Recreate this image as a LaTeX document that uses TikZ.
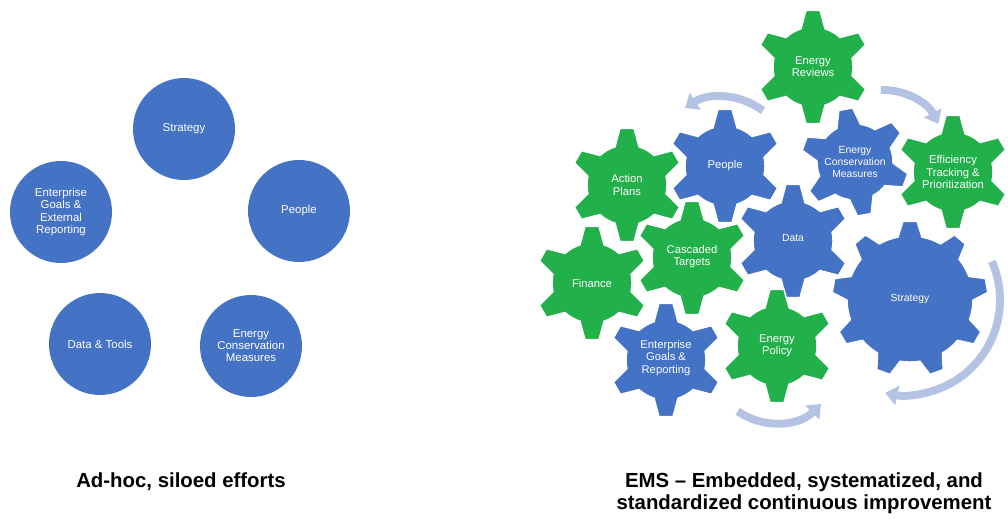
\documentclass[tikz,border=0pt]{standalone}
\usepackage{fontspec}
\setmainfont{Liberation Sans}
\usepackage{tikz}
\usetikzlibrary{arrows.meta}

\definecolor{cogblue}{HTML}{4472C4}
\definecolor{coggreen}{HTML}{22B04B}
\definecolor{loopblue}{HTML}{B4C3E3}

% centre, colour, teeth, body radius, tip radius, turn
\newcommand{\cog}[6]{%
  \begin{scope}[shift={(#1)}]
    \pgfmathsetmacro{\cogstep}{360/#3}
    \pgfmathsetmacro{\cogbase}{asin(12/#4)}
    \pgfmathsetmacro{\cogtip}{asin(7/#5)}
    \pgfmathtruncatemacro{\coglast}{#3-1}
    \filldraw[fill=#2,draw=white,line width=0.8pt]
      ({90+#6-\cogbase}:#4)
      \foreach \k in {0,...,\coglast}{
        -- ({90+#6+\k*\cogstep-\cogbase}:#4)
        -- ({90+#6+\k*\cogstep-\cogtip}:#5)
        -- ({90+#6+\k*\cogstep+\cogtip}:#5)
        -- ({90+#6+\k*\cogstep+\cogbase}:#4)
        arc[start angle={90+#6+\k*\cogstep+\cogbase},
            end angle={90+#6+(\k+1)*\cogstep-\cogbase}, radius=#4]
      } -- cycle;
  \end{scope}}

\begin{document}
\begin{tikzpicture}[x=0.02cm,y=0.02cm,
    blob/.style={circle,fill=cogblue,minimum size=2.04cm,inner sep=0pt,
      text=white,align=center,font=\fontsize{6.5}{6.9}\selectfont},
    cogtext/.style={text=white,align=center,font=\fontsize{6.4}{6.9}\selectfont},
    smalltext/.style={cogtext,font=\fontsize{5.9}{7.1}\selectfont},
    flow/.style={loopblue,line width=4.5pt,-{Triangle[width=11pt,length=7pt]}},
    caption/.style={align=center,font=\fontsize{11.6}{12.5}\selectfont\bfseries}]
  \useasboundingbox (0,0) rectangle (1008,518);

  \node[blob] (S) at (184,389) {Strategy};
  \node[blob] (P) at (299,307) {People};
  \node[blob] (G) at (61,306) {Enterprise\\Goals \&\\External\\Reporting};
  \node[blob] (D) at (100,174) {Data \& Tools};
  \node[blob] (M) at (251,172) {Energy\\Conservation\\Measures};

  \cog{813,451}{coggreen}{6}{40}{57}{0}
  \cog{725,352}{cogblue}{6}{40}{57}{0}
  \cog{627,333}{coggreen}{6}{40}{57}{0}
  \cog{855,356}{cogblue}{6}{38}{54}{10}
  \cog{953,346}{coggreen}{6}{40}{57}{0}
  \cog{793,277}{cogblue}{6}{40}{57}{0}
  \cog{692,260}{coggreen}{6}{40}{57}{0}
  \cog{592,235}{coggreen}{6}{40}{57}{0}
  \cog{666,158}{cogblue}{6}{40}{57}{0}
  \cog{777,172}{coggreen}{6}{40}{57}{0}
  \cog{910,219}{cogblue}{9}{63}{78}{0}

  \node[cogtext] (ER) at (813,451) {Energy\\Reviews};
  \node[cogtext] (PE) at (725,352) {People};
  \node[cogtext] (AP) at (627,333) {Action\\Plans};
  \node[smalltext] (EC) at (855,356) {Energy\\Conservation\\Measures};
  \node[cogtext] (ET) at (953,346) {Efficiency\\Tracking \&\\Prioritization};
  \node[smalltext] (DA) at (793,280) {Data};
  \node[cogtext] (CT) at (692,261) {Cascaded\\Targets};
  \node[cogtext] (FI) at (592,235) {Finance};
  \node[cogtext] (EG) at (666,160) {Enterprise\\Goals \&\\Reporting};
  \node[cogtext] (EP) at (777,172) {Energy\\Policy};
  \node[smalltext] (ST) at (910,219) {Strategy};

  \draw[flow] ([shift={(53:68)}]722,353) arc[start angle=53, end angle=123, radius=68];
  \draw[flow] ([shift={(92:62)}]883,366) arc[start angle=92, end angle=27, radius=62];
  \draw[flow] ([shift={(235:65)}]775,160) arc[start angle=235, end angle=315, radius=65];
  \draw[flow] ([shift={(24:95)}]905,218) arc[start angle=24, end angle=-102, radius=95];

  \node[caption] (L) at (181,36) {Ad-hoc, siloed efforts};
  \node[caption] (R) at (804,25) {EMS -- Embedded, systematized, and\\standardized continuous improvement};
\end{tikzpicture}
\end{document}
